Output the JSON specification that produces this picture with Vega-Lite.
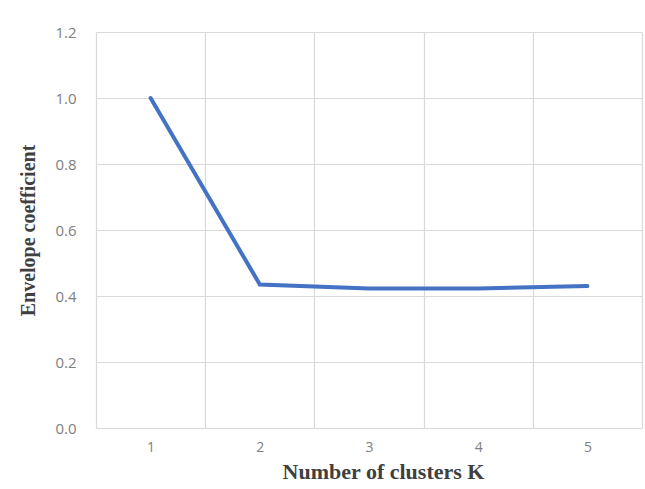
{
  "$schema": "https://vega.github.io/schema/vega-lite/v6.json",
  "autosize": {"type": "none"},
  "width": 546,
  "height": 396,
  "padding": {"left": 96, "top": 32, "right": 3, "bottom": 61},
  "background": "white",
  "config": {"view": {"stroke": null}},
  "data": {"values": [
    {"K": "1", "coef": 1.0},
    {"K": "2", "coef": 0.435},
    {"K": "3", "coef": 0.423},
    {"K": "4", "coef": 0.423},
    {"K": "5", "coef": 0.43}
  ]},
  "mark": {"type": "line", "color": "#4472C4", "strokeWidth": 4, "strokeCap": "round", "strokeJoin": "miter"},
  "encoding": {
    "x": {
      "field": "K", "type": "ordinal", "sort": null,
      "scale": {"paddingInner": 0, "paddingOuter": 0},
      "axis": {
        "title": "Number of clusters K",
        "labelAngle": 0,
        "grid": true, "gridColor": "#d9d9d9", "gridWidth": 1.2,
        "tickBand": "extent",
        "ticks": false, "domain": false,
        "labelFont": "Open Sans", "labelFontSize": 14, "labelColor": "#808080",
        "labelPadding": 12,
        "titleFont": "Liberation Serif", "titleFontSize": 22, "titleFontWeight": "bold",
        "titleColor": "#404040", "titlePadding": 7, "titleX": 287
      }
    },
    "y": {
      "field": "coef", "type": "quantitative",
      "scale": {"domain": [0, 1.2], "nice": false},
      "axis": {
        "title": "Envelope coefficient",
        "values": [0, 0.2, 0.4, 0.6, 0.8, 1.0, 1.2],
        "format": ".1f",
        "grid": true, "gridColor": "#d9d9d9", "gridWidth": 1.2,
        "ticks": false, "domain": false,
        "labelFont": "Open Sans", "labelFontSize": 15, "labelColor": "#808080",
        "labelPadding": 20,
        "titleFont": "Liberation Serif", "titleFontSize": 20, "titleFontWeight": "bold",
        "titleColor": "#404040", "titleX": -68, "titleBaseline": "middle"
      }
    }
  }
}
